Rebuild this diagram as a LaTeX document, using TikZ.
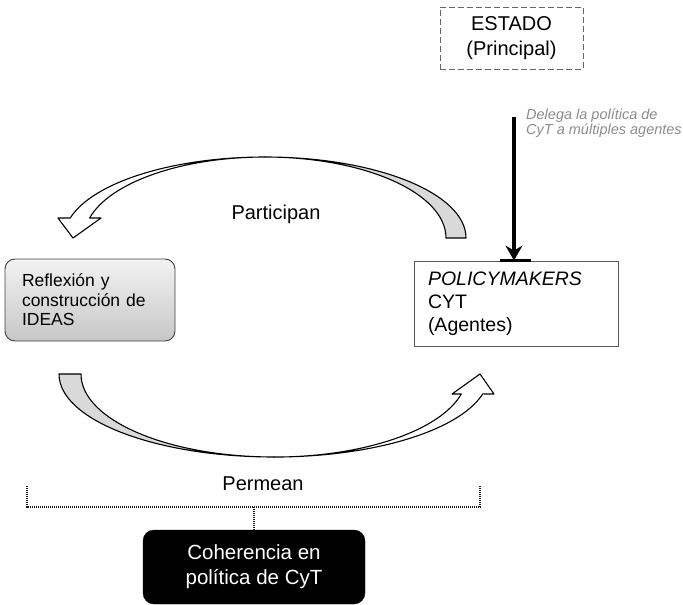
\documentclass[tikz,border=0pt]{standalone}
\usepackage{fontspec}
\setmainfont{Liberation Sans}
\usepackage{tikz}
\usetikzlibrary{positioning, arrows.meta, fit, shapes}

\begin{document}
\begin{tikzpicture}[x=1pt, y=-1pt,
        principal/.style={draw=black!60, dashed, dash pattern=on 6pt off 3pt, line width=0.9pt,
            minimum width=143pt, minimum height=62pt, align=center,
            font=\fontsize{20}{25}\selectfont},
        agentes/.style={draw=black!65, line width=0.9pt, minimum width=204pt, minimum height=85pt,
            text width=176pt, inner xsep=14pt, align=left,
            font=\fontsize{19.5}{23}\selectfont},
        ideas/.style={draw=black!75, line width=0.9pt, rounded corners=10pt,
            top color=black!5, bottom color=black!22,
            minimum width=170pt, minimum height=82pt, text width=136pt, inner xsep=17pt,
            align=left, font=\fontsize{17.5}{19.5}\selectfont},
        coherencia/.style={fill=black, draw=black, rounded corners=11pt, text=white,
            minimum width=222pt, minimum height=74pt, align=center,
            font=\fontsize{20.5}{25}\selectfont},
        etiqueta/.style={font=\fontsize{20}{24}\selectfont},
        nota/.style={text=black!45, inner sep=0pt, align=left,
            font=\itshape\fontsize{14.5}{15.5}\selectfont},
        cinta/.style={draw=black, line width=1.1pt, line join=round},
        llave/.style={draw=black!90, line width=1.4pt, dash pattern=on 1.1pt off 0.9pt}]

        \useasboundingbox (0,0) rectangle (683,605);

        \node[principal] (estado) at (511.5,38) {ESTADO\\(Principal)};
        \node[agentes] (policy) at (516,303.5) {\textit{POLICYMAKERS}\\CYT\\(Agentes)};
        \node[ideas] (ideas) at (90,300) {Reflexión y\\construcción de\\IDEAS};
        \node[coherencia] (coherencia) at (254,567) {Coherencia en\\política de CyT};

        \node[etiqueta] (participan) at (276,214) {Participan};
        \node[etiqueta] (permean) at (263,484) {Permean};
        \node[nota, anchor=west] (delega) at (526,123) {Delega la política de\\CyT a múltiples agentes};

        % delegacion
        \coordinate (inicio) at (514,117);
        \draw[line width=4pt, -{Stealth[length=15pt, width=17pt, inset=5pt]}] (inicio) -- (policy.north -| inicio);
        \draw[line width=2.5pt] ([xshift=-14pt]policy.north -| inicio) -- ([xshift=17pt]policy.north -| inicio);

        % participan
        \draw[cinta, fill=gray!30] (466,238)
            arc[start angle=0, end angle=-90, x radius=201, y radius=81]
            arc[start angle=-90, end angle=0, x radius=181, y radius=81] -- cycle;
        \draw[cinta, fill=white] (265,157)
            arc[start angle=-90, end angle=-165.7, x radius=201, y radius=81]
            -- (58,218) -- (73,238) -- (101,218) -- (89.6,218)
            arc[start angle=-165.7, end angle=-90, x radius=181, y radius=81] -- cycle;

        % permean
        \draw[cinta, fill=gray!30] (59,374)
            arc[start angle=180, end angle=90, x radius=215, y radius=83]
            arc[start angle=90, end angle=180, x radius=193, y radius=83] -- cycle;
        \draw[cinta, fill=white] (274,457)
            arc[start angle=90, end angle=13.9, x radius=215, y radius=83]
            -- (494,394) -- (480,374) -- (452,394) -- (461.3,394)
            arc[start angle=13.9, end angle=90, x radius=193, y radius=83] -- cycle;

        \draw[llave] (27,486) -- (27,507) -- (480,507) -- (480,486);
        \draw[llave] (coherencia.north |- 0,507) -- (coherencia.north);

    \end{tikzpicture}
\end{document}
